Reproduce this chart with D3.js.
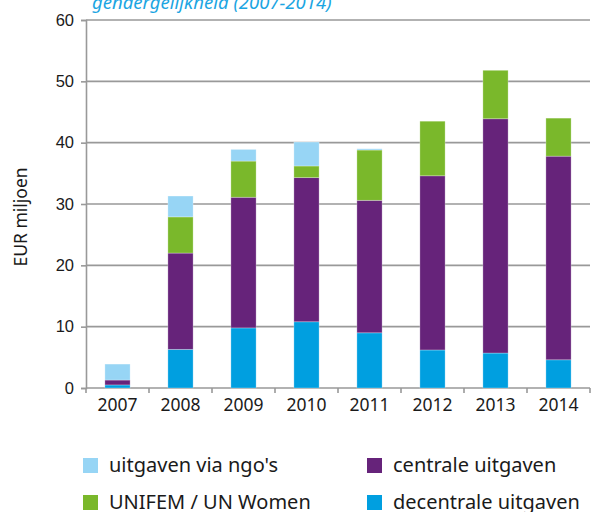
<!DOCTYPE html>
<html>
<head>
<meta charset="utf-8">
<script src="https://cdn.jsdelivr.net/npm/d3@7"></script>
<style>
  body { margin: 0; background: #fff; }
  svg { display: block; font-family: "Noto Sans", sans-serif; }
</style>
</head>
<body>
<div id="chart"></div>
<script>
// data (EUR miljoen)
const years = ["2007", "2008", "2009", "2010", "2011", "2012", "2013", "2014"];
const decentraal = [0.5, 6.3, 9.8, 10.8, 9.0, 6.2, 5.7, 4.6];
const centraal = [0.8, 15.7, 21.3, 23.5, 21.6, 28.4, 38.2, 33.2];
const unifem = [0, 5.9, 5.9, 1.9, 8.2, 8.9, 7.9, 6.2];
const ngos = [2.6, 3.4, 1.9, 3.9, 0.2, 0, 0, 0];
const yTicks = [0, 10, 20, 30, 40, 50, 60];

const seriesNames = ["decentrale uitgaven", "centrale uitgaven", "UNIFEM / UN Women", "uitgaven via ngo's"];
const colors = ["#009fe0", "#66237a", "#7ab82b", "#97d5f5"];

const w = 594, h = 512;
const margin = { left: 86, right: 4, top: 20, bottom: 124 };

const svg = d3.select("#chart").append("svg").attr("width", w).attr("height", h);

const rows = years.map((y, i) => ({ year: y, s0: decentraal[i], s1: centraal[i], s2: unifem[i], s3: ngos[i] }));
const stack = d3.stack().keys(["s0", "s1", "s2", "s3"])(rows);

const x = d3.scaleBand().domain(years).range([margin.left, w - margin.right]).paddingInner(0.6).paddingOuter(0.3);
const xTicks = d3.scaleBand().domain(years).range([margin.left, w - margin.right]);
const y = d3.scaleLinear().domain([0, 60]).range([h - margin.bottom, margin.top]);

// title (cut off at the top)
svg.append("text")
  .attr("x", 92).attr("y", 9)
  .attr("fill", "#1ba5e2")
  .style("font-style", "italic")
  .style("font-size", "18.5px")
  .text("gendergelijkheid (2007-2014)");

// gridlines
svg.append("g").selectAll("line")
  .data(yTicks.filter(d => d > 0))
  .enter().append("line")
  .attr("x1", margin.left).attr("x2", w - margin.right)
  .attr("y1", d => y(d)).attr("y2", d => y(d))
  .attr("stroke", "#999").attr("stroke-width", 1.6);

// y axis
const yAxis = svg.append("g").attr("transform", "translate(" + margin.left + ",0)")
  .call(d3.axisLeft(y).tickValues(yTicks).tickSize(5).tickPadding(7));
yAxis.select(".domain").attr("stroke", "#999").attr("stroke-width", 1.6);
yAxis.selectAll(".tick line").attr("stroke", "#999").attr("stroke-width", 1.6);
yAxis.selectAll("text").attr("fill", "#1a1a1a").style("font-size", "16.5px");

// x axis: ticks at band edges
const xg = svg.append("g").attr("transform", "translate(0," + y(0) + ")");
xg.append("line").attr("x1", margin.left).attr("x2", w - margin.right)
  .attr("stroke", "#999").attr("stroke-width", 1.6);
xg.selectAll(".edge")
  .data(years.concat(["end"]))
  .enter().append("line")
  .attr("x1", (d, i) => i < years.length ? xTicks(d) : w - margin.right)
  .attr("x2", (d, i) => i < years.length ? xTicks(d) : w - margin.right)
  .attr("y1", 0).attr("y2", 5)
  .attr("stroke", "#999").attr("stroke-width", 1.6);
xg.selectAll("text")
  .data(years)
  .enter().append("text")
  .attr("x", d => xTicks(d) + xTicks.bandwidth() / 2)
  .attr("y", 23)
  .attr("text-anchor", "middle")
  .attr("fill", "#1a1a1a")
  .style("font-size", "17.5px")
  .text(d => d);

// y label
svg.append("text")
  .attr("transform", "rotate(-90)")
  .attr("x", -(y(30) + 13)).attr("y", 27)
  .attr("text-anchor", "middle")
  .attr("fill", "#1a1a1a")
  .style("font-size", "17.5px")
  .text("EUR miljoen");

// bars
svg.append("g").selectAll("g")
  .data(stack)
  .enter().append("g")
  .attr("fill", (d, i) => colors[i])
  .selectAll("rect")
  .data(d => d)
  .enter().append("rect")
  .attr("x", d => x(d.data.year))
  .attr("width", x.bandwidth())
  .attr("y", d => y(d[1]))
  .attr("height", d => y(d[0]) - y(d[1]))
  .attr("stroke", "#ffffff").attr("stroke-opacity", 0.35).attr("stroke-width", 0.8);

// legend
const legendItems = [
  { name: seriesNames[3], color: colors[3], x: 83, y: 458 },
  { name: seriesNames[1], color: colors[1], x: 367, y: 458 },
  { name: seriesNames[2], color: colors[2], x: 83, y: 495 },
  { name: seriesNames[0], color: colors[0], x: 367, y: 495 }
];
const lg = svg.append("g").selectAll("g").data(legendItems).enter().append("g")
  .attr("transform", d => "translate(" + d.x + "," + d.y + ")");
lg.append("rect").attr("width", 15).attr("height", 15).attr("fill", d => d.color);
lg.append("text")
  .attr("x", 26).attr("y", 14)
  .attr("fill", "#1a1a1a")
  .style("font-size", "20px")
  .text(d => d.name);
</script>
</body>
</html>
